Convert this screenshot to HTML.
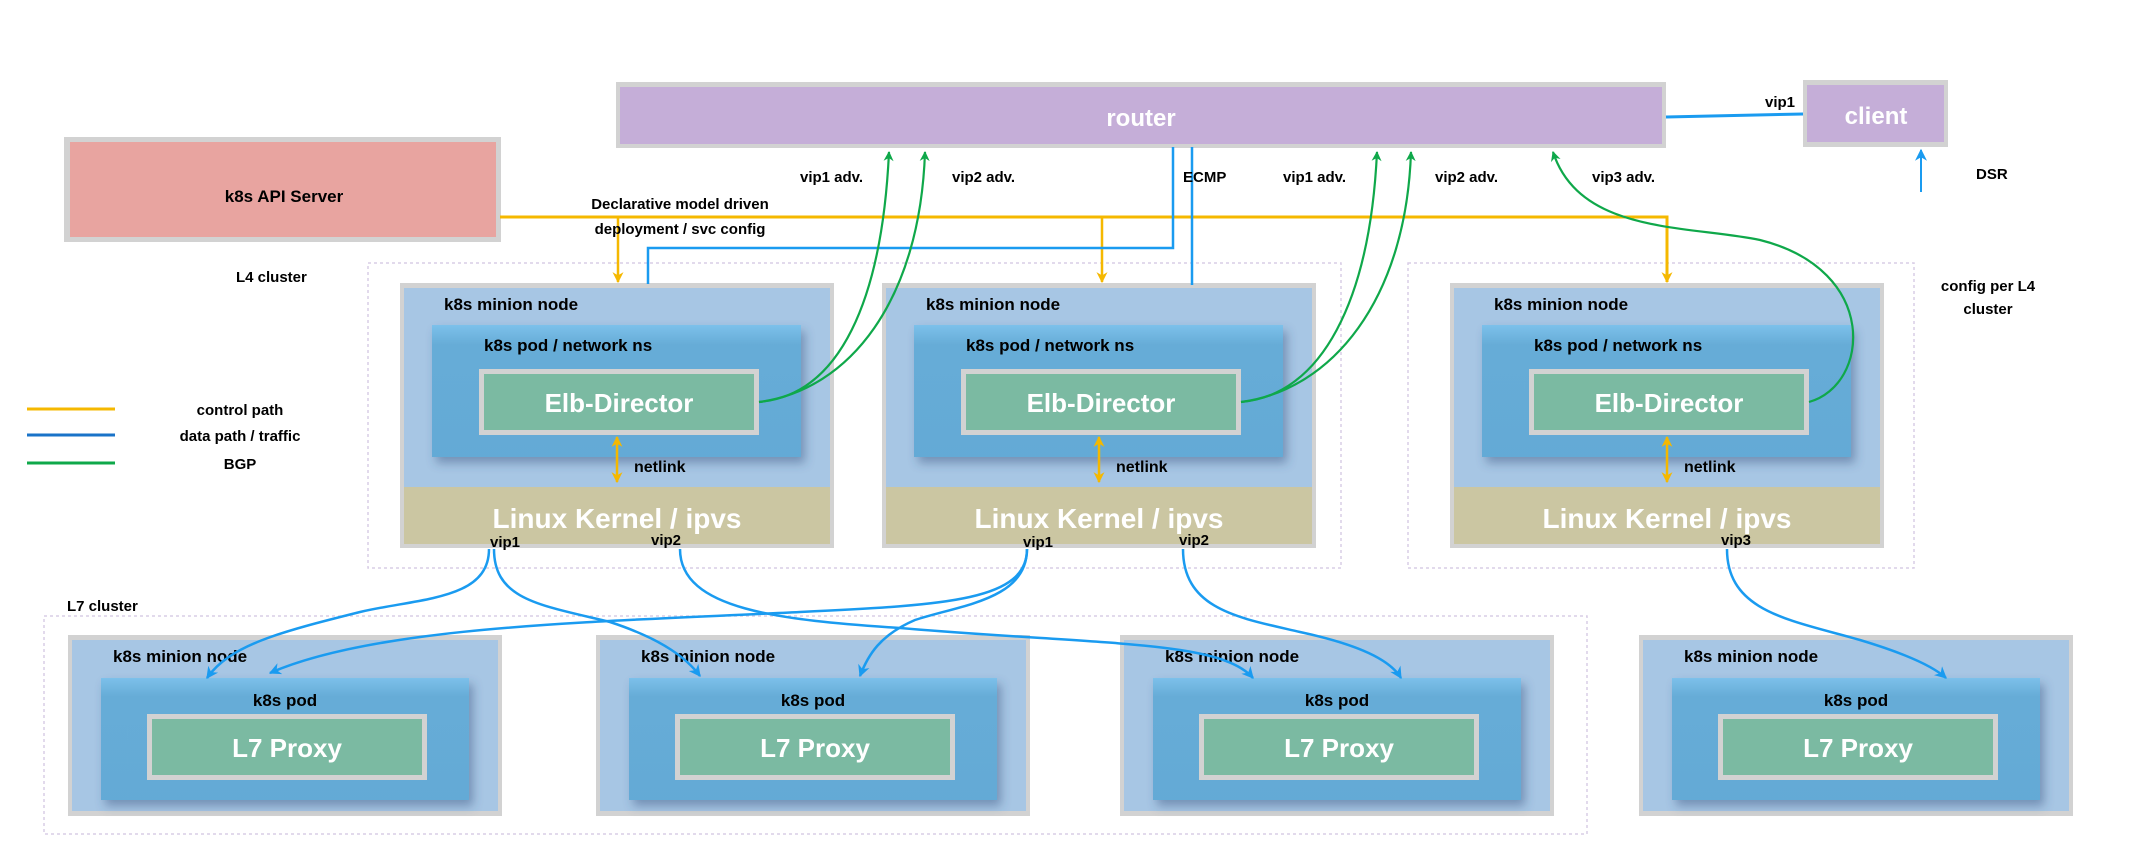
<!DOCTYPE html>
<html><head><meta charset="utf-8"><style>
html,body{margin:0;padding:0;background:#fff;}
svg{display:block;font-family:"Liberation Sans",sans-serif;font-weight:bold;}
</style></head><body>
<svg width="2132" height="866" viewBox="0 0 2132 866" xmlns="http://www.w3.org/2000/svg">
<defs>
<marker id="ay" viewBox="0 0 10 10" refX="9" refY="5" markerWidth="16" markerHeight="11" orient="auto-start-reverse" markerUnits="userSpaceOnUse"><path d="M0,0 L10,5 L0,10 L3,5 z" fill="#f5b800"/></marker>
<marker id="ab" viewBox="0 0 10 10" refX="9" refY="5" markerWidth="14" markerHeight="12" orient="auto" markerUnits="userSpaceOnUse"><path d="M0,0 L10,5 L0,10 L3,5 z" fill="#1a9bf0"/></marker>
<marker id="ag" viewBox="0 0 10 10" refX="9" refY="5" markerWidth="14" markerHeight="10" orient="auto" markerUnits="userSpaceOnUse"><path d="M0,0 L10,5 L0,10 L3,5 z" fill="#0fa84a"/></marker>
<linearGradient id="pg" x1="0" y1="0" x2="0" y2="1"><stop offset="0" stop-color="#7cc0ea"/><stop offset="0.15" stop-color="#66acd7"/><stop offset="1" stop-color="#64aad6"/></linearGradient>
<filter id="sh" x="-10%" y="-10%" width="130%" height="130%"><feDropShadow dx="4" dy="6" stdDeviation="5" flood-color="#30507a" flood-opacity="0.45"/></filter>
<g id="l4node">
  <rect x="400" y="283" width="434" height="265" fill="#d2d2d2"/>
  <rect x="404" y="288" width="426" height="199" fill="#a7c6e4"/>
  <rect x="432" y="325" width="369" height="132" fill="url(#pg)" filter="url(#sh)"/>
  <rect x="479" y="369" width="280" height="66" fill="#d2d2d2"/>
  <rect x="484" y="374" width="270" height="56" fill="#7bbaa2"/>
  <rect x="404" y="487" width="426" height="57" fill="#cbc6a2"/>
  <text x="444" y="310" font-size="17" fill="#000">k8s minion node</text>
  <text x="484" y="351" font-size="17" fill="#000">k8s pod / network ns</text>
  <text x="619" y="412" font-size="26" fill="#fff" text-anchor="middle">Elb-Director</text>
  <text x="617" y="528" font-size="28" fill="#fff" text-anchor="middle">Linux Kernel / ipvs</text>
  <line x1="617" y1="437" x2="617" y2="482" stroke="#f5b800" stroke-width="2.5" marker-start="url(#ay)" marker-end="url(#ay)"/>
  <text x="634" y="472" font-size="16" fill="#000">netlink</text>
</g>
<g id="l7node">
  <rect x="68" y="635" width="434" height="181" fill="#d2d2d2"/>
  <rect x="72" y="640" width="426" height="171" fill="#a7c6e4"/>
  <rect x="101" y="678" width="368" height="122" fill="url(#pg)" filter="url(#sh)"/>
  <rect x="147" y="714" width="280" height="66" fill="#d2d2d2"/>
  <rect x="152" y="719" width="270" height="56" fill="#7bbaa2"/>
  <text x="113" y="662" font-size="17" fill="#000">k8s minion node</text>
  <text x="285" y="706" font-size="17" fill="#000" text-anchor="middle">k8s pod</text>
  <text x="287" y="757" font-size="26" fill="#fff" text-anchor="middle">L7 Proxy</text>
</g>
</defs>

<rect x="368" y="263" width="973" height="305" fill="none" stroke="#d9cde6" stroke-width="1.5" stroke-dasharray="3,3"/>
<rect x="1408" y="263" width="506" height="305" fill="none" stroke="#d9cde6" stroke-width="1.5" stroke-dasharray="3,3"/>
<rect x="44" y="616" width="1543" height="218" fill="none" stroke="#d9cde6" stroke-width="1.5" stroke-dasharray="3,3"/>

<rect x="616" y="82" width="1050" height="66" fill="#d2d2d2"/>
<rect x="620" y="87" width="1042" height="57" fill="#c5aed8"/>
<text x="1141" y="126" font-size="24" fill="#fff" text-anchor="middle">router</text>
<rect x="1803" y="80" width="145" height="67" fill="#d2d2d2"/>
<rect x="1807" y="85" width="137" height="57" fill="#c5aed8"/>
<text x="1876" y="124" font-size="24" fill="#fff" text-anchor="middle">client</text>
<line x1="1666" y1="117" x2="1803" y2="114" stroke="#1a9bf0" stroke-width="3"/>
<text x="1765" y="107" font-size="15">vip1</text>
<line x1="1921" y1="192" x2="1921" y2="150" stroke="#1a9bf0" stroke-width="2" marker-end="url(#ab)"/>
<text x="1976" y="179" font-size="15">DSR</text>

<rect x="64" y="137" width="437" height="105" fill="#d2d2d2"/>
<rect x="70" y="142" width="426" height="95" fill="#e8a4a0"/>
<text x="284" y="202" font-size="17" text-anchor="middle">k8s API Server</text>

<use href="#l4node"/>
<use href="#l4node" x="482"/>
<use href="#l4node" x="1050"/>

<use href="#l7node"/>
<use href="#l7node" x="528"/>
<use href="#l7node" x="1052"/>
<use href="#l7node" x="1571"/>

<polyline points="500,217 1667,217 1667,282" fill="none" stroke="#f5b800" stroke-width="3" marker-end="url(#ay)"/>
<line x1="618" y1="217" x2="618" y2="282" stroke="#f5b800" stroke-width="2.5" marker-end="url(#ay)"/>
<line x1="1102" y1="217" x2="1102" y2="282" stroke="#f5b800" stroke-width="2.5" marker-end="url(#ay)"/>
<text x="680" y="209" font-size="15" text-anchor="middle">Declarative model driven</text>
<text x="680" y="234" font-size="15" text-anchor="middle">deployment / svc config</text>

<polyline points="1173,147 1173,248 648,248 648,284" fill="none" stroke="#1a9bf0" stroke-width="2.5"/>
<line x1="1192" y1="147" x2="1192" y2="285" stroke="#1a9bf0" stroke-width="2.5"/>
<text x="1183" y="182" font-size="15">ECMP</text>

<g fill="none" stroke="#0fa84a" stroke-width="2.2">
<path d="M759,402 C840,395 882,300 889,152" marker-end="url(#ag)"/>
<path d="M759,402 C850,390 920,300 925,152" marker-end="url(#ag)"/>
<path d="M1241,402 C1322,395 1370,300 1377,152" marker-end="url(#ag)"/>
<path d="M1241,402 C1332,390 1406,300 1411,152" marker-end="url(#ag)"/>
<path d="M1809,402 C1870,385 1880,270 1760,240 C1690,225 1580,235 1553,152" marker-end="url(#ag)"/>
</g>
<g font-size="15">
<text x="800" y="182">vip1 adv.</text>
<text x="952" y="182">vip2 adv.</text>
<text x="1283" y="182">vip1 adv.</text>
<text x="1435" y="182">vip2 adv.</text>
<text x="1592" y="182">vip3 adv.</text>
</g>

<text x="236" y="282" font-size="15">L4 cluster</text>
<text x="1988" y="291" font-size="15" text-anchor="middle">config per  L4</text>
<text x="1988" y="314" font-size="15" text-anchor="middle">cluster</text>
<text x="67" y="611" font-size="15">L7 cluster</text>

<g font-size="15">
<text x="490" y="547">vip1</text>
<text x="651" y="545">vip2</text>
<text x="1023" y="547">vip1</text>
<text x="1179" y="545">vip2</text>
<text x="1721" y="545">vip3</text>
</g>

<g fill="none" stroke="#1a9bf0" stroke-width="2.5">
<path d="M489,549 C489,600 420,598 360,612 C280,632 230,645 207,678" marker-end="url(#ab)"/>
<path d="M1027,549 C1027,600 950,605 800,612 C600,622 380,625 270,673" marker-end="url(#ab)"/>
<path d="M494,549 C494,600 540,605 610,622 C665,640 688,660 700,676" marker-end="url(#ab)"/>
<path d="M1027,549 C1027,600 960,605 915,620 C880,635 868,655 860,676" marker-end="url(#ab)"/>
<path d="M680,549 C680,610 780,620 900,628 C1100,645 1220,640 1253,678" marker-end="url(#ab)"/>
<path d="M1183,549 C1183,610 1240,618 1300,632 C1360,645 1390,660 1401,678" marker-end="url(#ab)"/>
<path d="M1727,549 C1727,612 1790,620 1860,640 C1910,655 1935,668 1946,678" marker-end="url(#ab)"/>
</g>

<line x1="27" y1="409" x2="115" y2="409" stroke="#f5b800" stroke-width="3"/>
<line x1="27" y1="435" x2="115" y2="435" stroke="#1a73c8" stroke-width="3"/>
<line x1="27" y1="463" x2="115" y2="463" stroke="#0fa84a" stroke-width="3"/>
<g font-size="15" text-anchor="middle">
<text x="240" y="415">control path</text>
<text x="240" y="441">data path / traffic</text>
<text x="240" y="469">BGP</text>
</g>
</svg>
</body></html>
